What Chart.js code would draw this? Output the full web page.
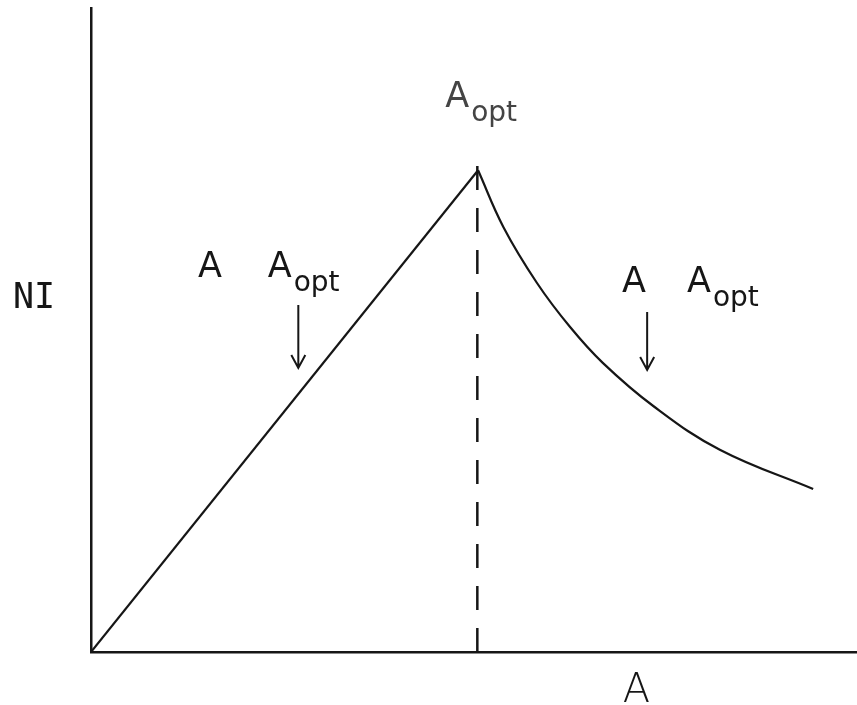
<!DOCTYPE html>
<html>
<head>
<meta charset="utf-8">
<script src="https://cdn.jsdelivr.net/npm/chart.js@4.4.2/dist/chart.umd.min.js"></script>
<style>
  html, body { margin: 0; padding: 0; background: #fff; }
  canvas { display: block; }
</style>
</head>
<body>
<canvas id="chart" width="857" height="705"></canvas>
<script>
// rising branch (A below A_opt)
const riseA = [0, 50.6];
const riseNI = [0, 74.8];
// falling branch (A above A_opt)
const fallA = [50.6, 53.9, 58.3, 62.6, 66.9, 73.5, 82.2, 94.4];
const fallNI = [74.8, 66.0, 57.3, 50.5, 44.9, 38.2, 31.4, 25.3];
// optimum marker
const optA = [50.5, 50.5];
const optNI = [0, 78];

const INK = '#161616';

// text and arrows, placed in data units
const labels = [
  { x: 46.3, y: 84.6, main: 'A', sub: 'opt', color: '#444' },
  { x: 14.0, y: 58.2, main: 'A' },
  { x: 23.1, y: 58.2, main: 'A', sub: 'opt' },
  { x: 69.4, y: 55.9, main: 'A' },
  { x: 77.9, y: 55.9, main: 'A', sub: 'opt' },
  { x: -10.2, y: 53.4, main: 'NI', mono: true },
  { x: 69.5, y: -7.8, main: 'A', size: 40, weight: '300' }
];
const arrows = [
  { x: 27.1, from: 53.9, to: 44.1 },
  { x: 72.7, from: 52.8, to: 43.8 }
];

const annotations = {
  id: 'annotations',
  afterDatasetsDraw(chart) {
    const { ctx, scales: { x, y } } = chart;
    ctx.save();
    ctx.textBaseline = 'alphabetic';
    ctx.textAlign = 'left';
    labels.forEach(l => {
      const px = x.getPixelForValue(l.x);
      const py = y.getPixelForValue(l.y);
      const size = l.size || 35;
      ctx.fillStyle = l.color || INK;
      ctx.font = l.mono
        ? `${size}px "DejaVu Sans Mono"`
        : `${l.weight || 'normal'} ${size}px "DejaVu Sans"`;
      ctx.fillText(l.main, px, py);
      if (l.sub) {
        const w = ctx.measureText(l.main).width;
        ctx.font = `28px "DejaVu Sans"`;
        ctx.fillText(l.sub, px + w + 2, py + 14);
      }
    });
    ctx.strokeStyle = INK;
    ctx.lineWidth = 2;
    arrows.forEach(a => {
      const px = x.getPixelForValue(a.x);
      const top = y.getPixelForValue(a.from);
      const tip = y.getPixelForValue(a.to);
      ctx.beginPath();
      ctx.moveTo(px, top);
      ctx.lineTo(px, tip);
      ctx.moveTo(px - 7, tip - 13);
      ctx.lineTo(px, tip);
      ctx.lineTo(px + 7, tip - 13);
      ctx.stroke();
    });
    ctx.restore();
  }
};

new Chart(document.getElementById('chart'), {
  type: 'scatter',
  data: {
    datasets: [
      {
        data: riseA.map((v, i) => ({ x: v, y: riseNI[i] })),
        showLine: true,
        borderColor: INK,
        borderWidth: 2.2,
        pointRadius: 0
      },
      {
        data: fallA.map((v, i) => ({ x: v, y: fallNI[i] })),
        showLine: true,
        borderColor: INK,
        borderWidth: 2.2,
        pointRadius: 0,
        tension: 0.4
      },
      {
        data: optA.map((v, i) => ({ x: v, y: optNI[i] })),
        showLine: true,
        borderColor: INK,
        borderWidth: 2.5,
        borderDash: [24, 18],
        pointRadius: 0
      }
    ]
  },
  options: {
    responsive: false,
    animation: false,
    layout: {
      padding: { left: 91, top: 8, right: 1, bottom: 53 }
    },
    plugins: {
      legend: { display: false },
      tooltip: { enabled: false }
    },
    scales: {
      x: {
        type: 'linear',
        min: 0,
        max: 100,
        grid: { display: false },
        ticks: { display: false },
        border: { display: true, color: INK, width: 2.5 },
        afterFit: scale => { scale.height = 0; }
      },
      y: {
        type: 'linear',
        min: 0,
        max: 100,
        grid: { display: false },
        ticks: { display: false },
        border: { display: true, color: INK, width: 2.5 },
        afterFit: scale => { scale.width = 0; }
      }
    }
  },
  plugins: [annotations]
});
</script>
</body>
</html>
